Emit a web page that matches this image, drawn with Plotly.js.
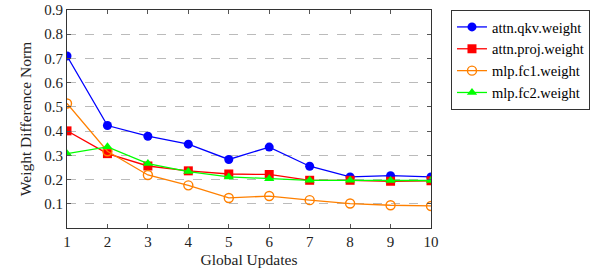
<!DOCTYPE html>
<html>
<head>
<meta charset="utf-8">
<script src="https://cdn.plot.ly/plotly-3.0.1.min.js"></script>
<style>html,body{margin:0;padding:0;background:#fff;}#chart{width:599px;height:268px;}</style>
</head>
<body>
<div id="chart"></div>
<script>
const updates = [1,2,3,4,5,6,7,8,9,10];
const attnQkv  = [0.710,0.423,0.379,0.346,0.283,0.334,0.255,0.211,0.216,0.211];
const attnProj = [0.401,0.307,0.256,0.236,0.223,0.221,0.197,0.197,0.193,0.195];
const mlpFc1   = [0.514,0.317,0.219,0.176,0.124,0.132,0.115,0.101,0.094,0.091];
const mlpFc2   = [0.307,0.335,0.266,0.233,0.211,0.203,0.197,0.197,0.196,0.196];
const names = ['attn.qkv.weight','attn.proj.weight','mlp.fc1.weight','mlp.fc2.weight'];
const yTicks = [0.1,0.2,0.3,0.4,0.5,0.6,0.7,0.8,0.9];

function tr(y, name, color, symbol, size, open){
  return {x: updates, y: y, name: name, type:'scatter', mode:'lines+markers',
    line:{color:color, width:1.3},
    marker:{color: color, symbol:symbol, size:size,
      line:{color:color, width: open ? 1.4 : 0}}};
}
const data = [
  tr(attnQkv, names[0], '#0000ff', 'circle', 9, false),
  tr(attnProj, names[1], '#ff0000', 'square', 9, false),
  tr(mlpFc1, names[2], '#ff8000', 'circle-open', 9, true),
  tr(mlpFc2, names[3], '#00ff00', 'triangle-up', 9, false)
];
const serif = 'Liberation Serif, DejaVu Serif, serif';
const layout = {
  width:599, height:268,
  margin:{l:67, r:167, t:10, b:40},
  paper_bgcolor:'#fff', plot_bgcolor:'#fff',
  font: {family: serif, size:15, color:'#222'},
  showlegend:true,
  legend:{x:1.052, y:1, xanchor:'left', yanchor:'top', bordercolor:'#333', borderwidth:1,
    font:{family: serif, size:14.5, color:'#000'}, tracegroupgap:0, itemwidth:30},
  xaxis:{range:[1,10], tickvals:updates, ticks:'inside', ticklen:4, tickcolor:'#555',
    tickfont:{family: serif, size:15, color:'#222'},
    showline:true, linecolor:'#333', linewidth:1, mirror:'ticks', showgrid:false, zeroline:false,
    title:{text:'Global Updates', font:{family: serif, size:15.5, color:'#222'}, standoff:5}},
  yaxis:{range:[0,0.9], tickvals:yTicks, ticktext:yTicks.map(v=>v.toFixed(1)), ticks:'inside', ticklen:4, tickcolor:'#555',
    tickfont:{family: serif, size:15, color:'#222'},
    showline:true, linecolor:'#333', linewidth:1, mirror:'ticks', showgrid:true,
    gridcolor:'#bbb', griddash:'dash', gridwidth:1, zeroline:false,
    title:{text:'Weight Difference Norm', font:{family: serif, size:15.5, color:'#222'}, standoff:8}}
};
Plotly.newPlot('chart', data, layout, {displayModeBar:false, staticPlot:true});
</script>
</body>
</html>
